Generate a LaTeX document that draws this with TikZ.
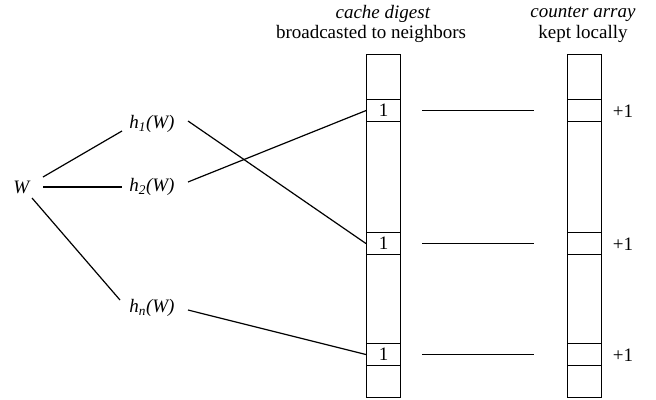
\documentclass[tikz,border=0pt]{standalone}
\usepackage{fontspec}
\setmainfont{Liberation Serif}
\begin{document}
\begin{tikzpicture}[x=1pt,y=-1pt,
  txt/.style={inner sep=0pt, font=\rmfamily\fontsize{19}{22}\selectfont},
  col/.style={draw, line width=1.4pt, minimum width=34pt, minimum height=343pt, inner sep=0pt, anchor=north west},
  cell/.style={draw, line width=1.1pt, minimum width=34pt, minimum height=22pt, inner sep=0pt, anchor=north west, font=\rmfamily\fontsize{19}{22}\selectfont},
  conn/.style={line width=1.2pt},
  hline/.style={line width=0.9pt}]
\useasboundingbox (0,0) rectangle (656,399);
% headers
\node[txt] (hd1) at (383,14) {\textit{cache digest}};
\node[txt] (hd2) at (371,34) {broadcasted to neighbors};
\node[txt] (hd3) at (583,14) {\textit{counter array}};
\node[txt] (hd4) at (583,34) {kept locally};
% columns
\node[col] (colL) at (366,54) {};
\node[col] (colR) at (567,54) {};
% cells
\node[cell] (a1) at (366,99) {1};
\node[cell] (a2) at (366,232) {1};
\node[cell] (a3) at (366,343) {1};
\node[cell] (b1) at (567,99) {};
\node[cell] (b2) at (567,232) {};
\node[cell] (b3) at (567,343) {};
% +1
\node[txt] (p1) at (623,111) {+1};
\node[txt] (p2) at (623,244) {+1};
\node[txt] (p3) at (623,355) {+1};
% left labels
\node[txt] (w) at (22,187) {\textit{W}};
\node[txt] (h1) at (152,124) {\textit{h\textsubscript{1}(W)}};
\node[txt] (h2) at (152,187) {\textit{h\textsubscript{2}(W)}};
\node[txt] (hn) at (152,308) {\textit{h\textsubscript{n}(W)}};
% connectors
\coordinate (w1) at (43,177);
\coordinate (w2) at (43,187);
\coordinate (w3) at (32,198);
\coordinate (e1) at (122,131);
\coordinate (e2) at (122,187);
\coordinate (e3) at (120,300);
\draw[conn] (w1) -- (e1);
\draw[conn] (w2) -- (e2);
\draw[conn] (w3) -- (e3);
\coordinate (s1) at (188,121);
\coordinate (s2) at (188,182);
\coordinate (s3) at (188,310);
\draw[conn] (s1) -- (a2.west);
\draw[conn] (s2) -- (a1.west);
\draw[conn] (s3) -- (a3.west);
% horizontal lines
\coordinate (m1a) at (422,110); \coordinate (m1b) at (534,110);
\coordinate (m2a) at (422,243); \coordinate (m2b) at (534,243);
\coordinate (m3a) at (422,354); \coordinate (m3b) at (534,354);
\draw[hline] (m1a) -- (m1b);
\draw[hline] (m2a) -- (m2b);
\draw[hline] (m3a) -- (m3b);
\end{tikzpicture}
\end{document}
